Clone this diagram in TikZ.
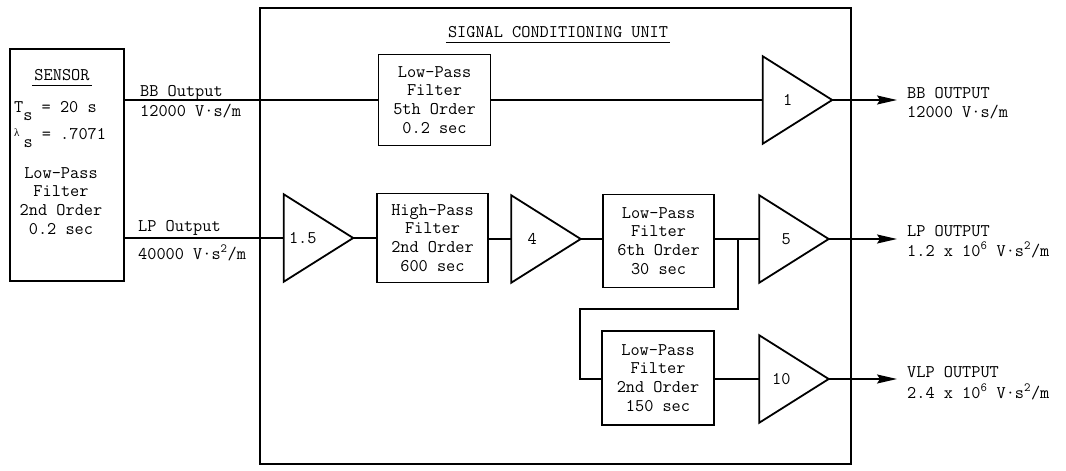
\documentclass[tikz,border=0pt]{standalone}
\usepackage{fontspec}
\newfontfamily\lamfont{Liberation Serif}
\usetikzlibrary{arrows.meta}
\begin{document}
\begin{tikzpicture}[x=1pt,y=-1pt,
  every node/.style={font=\ttfamily\fontsize{17.8}{18.7}\selectfont, inner sep=0pt},
  frame/.style={draw, line width=1.8pt},
  blk/.style={frame, minimum width=112pt, minimum height=92pt, align=center},
  ampbox/.style={minimum width=69pt, minimum height=87pt},
  tri/.style={line width=1.8pt, line join=miter},
  wire/.style={line width=1.5pt},
  outarrow/.style={wire, -{Stealth[length=20pt,width=9pt,inset=3pt]}},
  lbl/.style={anchor=base west},
]
\useasboundingbox (0,0) rectangle (1066,471);

% enclosing unit and sensor
\node[frame, minimum width=591pt, minimum height=456pt] (scu) at (555.5,236) {};
\node[anchor=base] (title) at (558,37) {SIGNAL CONDITIONING UNIT};
\draw[line width=1pt] ([yshift=-5pt,xshift=-2pt]title.base west) -- ([yshift=-5pt,xshift=2pt]title.base east);

\node[frame, minimum width=114pt, minimum height=232pt] (sensor) at (67,165) {};
\node[anchor=base] (sens) at (62,80) {SENSOR};
\draw[line width=1pt] ([yshift=-5pt,xshift=-2pt]sens.base west) -- ([yshift=-5pt,xshift=2pt]sens.base east);
\node[lbl] (ts) at (14,112) {T\raisebox{-8pt}{s} = 20 s};
\node[lbl] (ls) at (14,139) {\makebox[9.35pt][l]{\raisebox{3pt}{\lamfont\fontsize{11}{11}\selectfont λ}}\raisebox{-8pt}{s} = .7071};
\node[align=center] (sflt) at (61,201) {Low-Pass\\Filter\\2nd Order\\0.2 sec};

% blocks
\node[blk, minimum height=91pt] (lpf5) at (434.5,100) {Low-Pass\\Filter\\5th Order\\0.2 sec};
\node[blk, minimum width=111pt, minimum height=89pt] (hpf) at (432.5,238) {High-Pass\\Filter\\2nd Order\\600 sec};
\node[blk, minimum width=111pt, minimum height=93pt] (lpf6) at (658.5,241) {Low-Pass\\Filter\\6th Order\\30 sec};
\node[blk, minimum height=94pt] (lpf2) at (658,378) {Low-Pass\\Filter\\2nd Order\\150 sec};

% amplifiers
\node[ampbox] (a1) at (797.5,100) {};
\node[ampbox] (a15) at (318.5,238) {};
\node[ampbox] (a4) at (546,239) {};
\node[ampbox] (a5) at (794,239) {};
\node[ampbox] (a10) at (794,379) {};
\foreach \a/\g/\d in {a1/1/25, a15/1.5/19, a4/4/21, a5/5/27, a10/10/22}{
  \draw[tri] (\a.north west) -- (\a.east) -- (\a.south west) -- cycle;
  \node (\a g) at ([xshift=\d pt]\a.west) {\g};
}

% connectors
\coordinate (o1) at (897,100);
\coordinate (o2) at (897,239);
\coordinate (o3) at (897,379);
\coordinate (br) at (738,239);
\coordinate (jog) at (580,309);

\draw[wire] (sensor.east |- lpf5.west) -- (lpf5.west);
\draw[wire] (lpf5.east) -- (a1.west);
\draw[outarrow] (a1.east) -- (o1);

\draw[wire] (sensor.east |- a15.west) -- (a15.west);
\draw[wire] (a15.east) -- (hpf.west |- a15.east);
\draw[wire] (hpf.east |- a4.west) -- (a4.west);
\draw[wire] (a4.east) -- (lpf6.west |- a4.east);
\draw[wire] (lpf6.east |- a5.west) -- (a5.west);
\draw[outarrow] (a5.east) -- (o2);

\draw[wire] (br) |- (jog) |- (lpf2.west |- a10.west);
\draw[wire] (lpf2.east |- a10.west) -- (a10.west);
\draw[outarrow] (a10.east) -- (o3);

% labels
\node[lbl] (bbl1) at (140,96) {BB Output};
\node[lbl] (bbl2) at (140,116) {12000 V·s/m};
\node[lbl] (lpl1) at (138,231) {LP Output};
\node[lbl] (lpl2) at (138,259) {40000 V·s\textsuperscript{2}/m};

\node[lbl] (bbo1) at (907,98) {BB OUTPUT};
\node[lbl] (bbo2) at (907,117) {12000 V·s/m};
\node[lbl] (lpo1) at (907,236) {LP OUTPUT};
\node[lbl] (lpo2) at (907,256) {1.2 x 10\textsuperscript{6} V·s\textsuperscript{2}/m};
\node[lbl] (vlo1) at (907,377) {VLP OUTPUT};
\node[lbl] (vlo2) at (907,398) {2.4 x 10\textsuperscript{6} V·s\textsuperscript{2}/m};
\end{tikzpicture}
\end{document}
